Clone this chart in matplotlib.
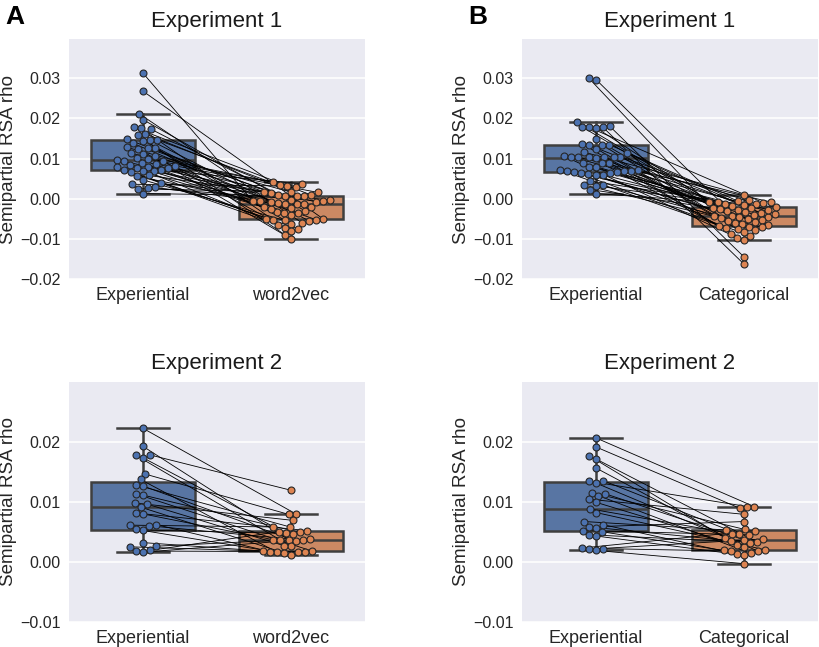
import numpy as np
import matplotlib
matplotlib.use("Agg")
import matplotlib.pyplot as plt

plt.rcParams['font.family'] = ['Liberation Sans', 'DejaVu Sans']

# ---- data (semipartial RSA rho, one value per subject, paired by index) ----
exp1_experiential_a = [0.0313, 0.0268, 0.0212, 0.0197, 0.0178, 0.0176, 0.0174, 0.0162,
                       0.0158, 0.0148, 0.0147, 0.0146, 0.0145, 0.0138, 0.0128, 0.0127,
                       0.0126, 0.0125, 0.0113, 0.0112, 0.0106, 0.0101, 0.0099, 0.0096,
                       0.0095, 0.0093, 0.0090, 0.0087, 0.0084, 0.0082, 0.0080, 0.0078,
                       0.0077, 0.0077, 0.0072, 0.0071, 0.0070, 0.0068, 0.0066, 0.0058,
                       0.0056, 0.0047, 0.0038, 0.0036, 0.0028, 0.0027, 0.0025, 0.0013]
exp1_word2vec = [-0.0005, -0.0050, -0.0060, -0.0030, 0.0010, -0.0072, -0.0013, 0.0017,
                 -0.0090, -0.0021, 0.0033, -0.0055, -0.0006, -0.0035, 0.0008, -0.0062,
                 -0.0012, -0.0100, 0.0030, -0.0040, -0.0004, -0.0052, 0.0041, -0.0020,
                 -0.0080, 0.0006, -0.0034, -0.0008, -0.0051, 0.0016, -0.0025, -0.0065,
                 0.0009, -0.0014, -0.0053, 0.0037, -0.0007, -0.0036, -0.0075, 0.0015,
                 -0.0022, -0.0054, -0.0003, 0.0032, -0.0010, -0.0006, 0.0018, 0.0007]

exp1_experiential_b = [0.0300, 0.0297, 0.0192, 0.0180, 0.0178, 0.0177, 0.0178, 0.0179,
                       0.0148, 0.0137, 0.0135, 0.0134, 0.0133, 0.0125, 0.0116, 0.0114,
                       0.0106, 0.0105, 0.0105, 0.0104, 0.0104, 0.0103, 0.0103, 0.0102,
                       0.0090, 0.0089, 0.0088, 0.0080, 0.0078, 0.0072, 0.0071, 0.0070,
                       0.0069, 0.0068, 0.0067, 0.0066, 0.0065, 0.0064, 0.0061, 0.0060,
                       0.0059, 0.0044, 0.0034, 0.0033, 0.0032, 0.0023, 0.0013]
exp1_categorical = [-0.0048, -0.0062, -0.0030, -0.0145, -0.0010, -0.0070, -0.0163, -0.0042,
                    -0.0022, -0.0087, -0.0006, -0.0055, -0.0035, -0.0076, 0.0010, -0.0045,
                    -0.0097, -0.0014, -0.0060, -0.0027, -0.0083, -0.0008, -0.0050, -0.0037,
                    -0.0068, -0.0017, -0.0102, -0.0024, -0.0053, -0.0002, -0.0073, -0.0040,
                    -0.0013, -0.0058, -0.0092, -0.0028, -0.0046, -0.0007, -0.0065, -0.0033,
                    -0.0079, -0.0015, -0.0044, -0.0071, -0.0009, -0.0026, -0.0020]

exp2_experiential_a = [0.0222, 0.0192, 0.0178, 0.0177, 0.0173, 0.0146, 0.0137, 0.0128,
                       0.0126, 0.0113, 0.0111, 0.0098, 0.0096, 0.0091, 0.0082, 0.0080,
                       0.0062, 0.0061, 0.0060, 0.0054, 0.0053, 0.0032, 0.0026, 0.0025,
                       0.0019, 0.0018, 0.0016]
exp2_word2vec = [0.0080, 0.0037, 0.0119, 0.0026, 0.0048, 0.0079, 0.0016, 0.0058,
                 0.0035, 0.0018, 0.0049, 0.0069, 0.0027, 0.0015, 0.0037, 0.0052,
                 0.0017, 0.0058, 0.0036, 0.0012, 0.0047, 0.0018, 0.0036, 0.0016,
                 0.0050, 0.0017, 0.0038]

exp2_experiential_b = [0.0206, 0.0191, 0.0176, 0.0171, 0.0156, 0.0135, 0.0134, 0.0131,
                       0.0115, 0.0113, 0.0110, 0.0104, 0.0099, 0.0088, 0.0082, 0.0067,
                       0.0062, 0.0058, 0.0057, 0.0052, 0.0050, 0.0045, 0.0043, 0.0023,
                       0.0022, 0.0021, 0.0019]
exp2_categorical = [0.0092, 0.0089, 0.0040, 0.0033, 0.0025, 0.0046, 0.0092, 0.0018,
                    0.0054, 0.0037, 0.0014, 0.0079, 0.0028, 0.0047, 0.0020, 0.0053,
                    0.0013, 0.0067, 0.0032, 0.0045, 0.0019, 0.0034, 0.0011, 0.0052,
                    0.0018, 0.0038, -0.0003]

yticks_top = [-0.02, -0.01, 0.0, 0.01, 0.02, 0.03]
yticks_bottom = [-0.01, 0.0, 0.01, 0.02]

BOX_COLORS = ['#5875a3', '#cc8963']
PT_COLORS = ['#4c72b0', '#dd8452']
EDGE = '#3f3f3f'


def swarm_x(ax, x0, vals, d=7.0):
    # simple beeswarm: place each point as close to x0 as possible without overlap (pixel space)
    vals = np.asarray(vals)
    pix = ax.transData.transform(np.column_stack([np.full(len(vals), x0), vals]))
    cx = pix[0, 0]
    out = np.zeros(len(vals))
    placed = []
    for i in np.argsort(vals):
        py = pix[i, 1]
        best = None
        for k in range(0, 400):
            for sgn in ((1,) if k == 0 else (-1, 1)):
                px = cx + sgn * k * 0.5
                if all((px - qx) ** 2 + (py - qy) ** 2 >= d * d for qx, qy in placed):
                    best = px
                    break
            if best is not None:
                break
        placed.append((best, py))
        out[i] = best
    back = ax.transData.inverted().transform(np.column_stack([out, pix[:, 1]]))
    return back[:, 0]


def draw_panel(ax, exp, model, labels, title, ylim, yticks):
    bp = ax.boxplot([exp, model], positions=[0, 1], widths=0.7, patch_artist=True,
                    showfliers=False, whis=1.5, manage_ticks=False,
                    boxprops=dict(edgecolor=EDGE, lw=1.8),
                    whiskerprops=dict(color=EDGE, lw=1.8),
                    capprops=dict(color=EDGE, lw=1.8),
                    medianprops=dict(color=EDGE, lw=1.8))
    for patch, c in zip(bp['boxes'], BOX_COLORS):
        patch.set_facecolor(c)

    ax.set_facecolor('#eaeaf2')
    for s in ax.spines.values():
        s.set_visible(False)
    ax.set_xlim(-0.5, 1.5)
    ax.set_ylim(*ylim)
    ax.set_yticks(yticks)
    ax.set_yticklabels([('%.2f' % t).replace('-', '\u2212') if t != 0 else '0.00' for t in yticks],
                       fontsize=11.5, color='#262626')
    ax.set_xticks([0, 1])
    ax.set_xticklabels(labels, fontsize=13, color='#262626')
    ax.tick_params(length=0, pad=6)
    ax.yaxis.grid(True, color='white', lw=1.1)
    ax.xaxis.grid(False)
    ax.set_axisbelow(True)

    xe = swarm_x(ax, 0, exp)
    xm = swarm_x(ax, 1, model)
    for i in range(len(exp)):
        ax.plot([xe[i], xm[i]], [exp[i], model[i]], color='black', lw=0.6, zorder=3)
    ax.scatter(xe, exp, s=25, color=PT_COLORS[0], edgecolor='#262626', lw=0.8, zorder=4)
    ax.scatter(xm, model, s=25, color=PT_COLORS[1], edgecolor='#262626', lw=0.8, zorder=4)

    ax.set_title(title, fontsize=16, pad=9, color='#1a1a1a')
    ax.set_ylabel('Semipartial RSA rho', fontsize=13.5, color='#262626', labelpad=2)


fig = plt.figure(figsize=(8.2, 6.47), dpi=100)
w, h = 296 / 820, 240 / 647
ax1 = fig.add_axes([69 / 820, 1 - 279 / 647, w, h])
ax2 = fig.add_axes([522 / 820, 1 - 279 / 647, w, h])
ax3 = fig.add_axes([69 / 820, 1 - 622 / 647, w, h])
ax4 = fig.add_axes([522 / 820, 1 - 622 / 647, w, h])

draw_panel(ax1, exp1_experiential_a, exp1_word2vec, ['Experiential', 'word2vec'],
           'Experiment 1', (-0.02, 0.0398), yticks_top)
draw_panel(ax2, exp1_experiential_b, exp1_categorical, ['Experiential', 'Categorical'],
           'Experiment 1', (-0.02, 0.0398), yticks_top)
draw_panel(ax3, exp2_experiential_a, exp2_word2vec, ['Experiential', 'word2vec'],
           'Experiment 2', (-0.01, 0.0299), yticks_bottom)
draw_panel(ax4, exp2_experiential_b, exp2_categorical, ['Experiential', 'Categorical'],
           'Experiment 2', (-0.01, 0.0299), yticks_bottom)

fig.text(5 / 820, 1 - 5 / 647, 'A', fontsize=19, fontweight='bold', va='top', ha='left')
fig.text(468 / 820, 1 - 5 / 647, 'B', fontsize=19, fontweight='bold', va='top', ha='left')

fig.savefig('out.png', dpi=100)
